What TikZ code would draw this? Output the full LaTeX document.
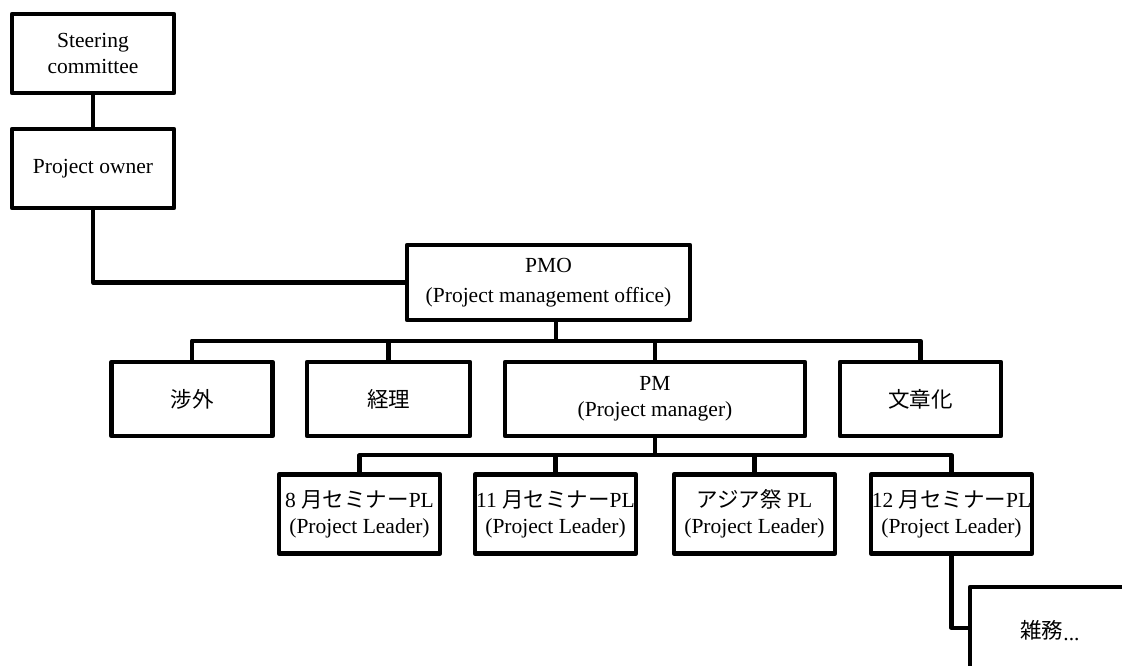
\documentclass[tikz,border=0pt]{standalone}
\usepackage{fontspec}
\setmainfont{Liberation Serif}
\newfontfamily\jp{Noto Sans CJK JP}
\begin{document}
\begin{tikzpicture}[x=1pt,y=-1pt,
  box/.style={draw=black,line width=4.5pt,line join=round,fill=white,align=center,
    inner sep=0pt,font=\fontsize{21.5}{26}\selectfont},
  conn/.style={draw=black,line width=4.2pt,line join=round}]
\useasboundingbox (0,0) rectangle (1122,666);
% nodes
\node[box,minimum width=162,minimum height=79] (sc) at (93,53.5) {Steering\\committee};
\node[box,minimum width=162,minimum height=79] (po) at (93,168.5) {Project owner};
\node[box,minimum width=283,minimum height=75,font=\fontsize{21.5}{30}\selectfont] (pmo) at (548.5,282.5) {PMO\\(Project management office)};
\node[box,minimum width=161,minimum height=74] (a) at (192,399) {\jp 涉外};
\node[box,minimum width=163,minimum height=74] (b) at (388.5,399) {\jp 経理};
\node[box,minimum width=300,minimum height=74] (pm) at (655,399) {PM\\(Project manager)};
\node[box,minimum width=161,minimum height=74] (d) at (920.5,399) {\jp 文章化};
\node[box,minimum width=161,minimum height=79] (l1) at (359.5,514) {8 {\jp 月セミナー}PL\\(Project Leader)};
\node[box,minimum width=161,minimum height=79] (l2) at (555.5,514) {11 {\jp 月セミナー}PL\\(Project Leader)};
\node[box,minimum width=161,minimum height=79] (l3) at (754.5,514) {{\jp アジア祭} PL\\(Project Leader)};
\node[box,minimum width=161,minimum height=79] (l4) at (951.5,514) {12 {\jp 月セミナー}PL\\(Project Leader)};
\node[box,minimum width=160,minimum height=86,text depth=0pt] (z) at (1050,630) {\raisebox{2pt}{\jp 雑務}...};
% connectors
\draw[conn] (sc.south) -- (po.north);
\draw[conn] (po.south) |- (pmo.west);
\draw[conn] (a.north) -- ++(0,-19) coordinate (busA) -- (busA -| d.north) -- (d.north);
\draw[conn] (b.north) -- (b.north |- busA);
\draw[conn] (pm.north) -- (pm.north |- busA);
\draw[conn] ([xshift=7.5pt]pmo.south) -- ([xshift=7.5pt]pmo.south |- busA);
\draw[conn] (l1.north) -- ++(0,-17) coordinate (busB) -- (busB -| l4.north) -- (l4.north);
\draw[conn] (l2.north) -- (l2.north |- busB);
\draw[conn] (l3.north) -- (l3.north |- busB);
\draw[conn] (pm.south) -- (pm.south |- busB);
\draw[conn] (l4.south) |- ([yshift=2pt]z.west);
\end{tikzpicture}
\end{document}
